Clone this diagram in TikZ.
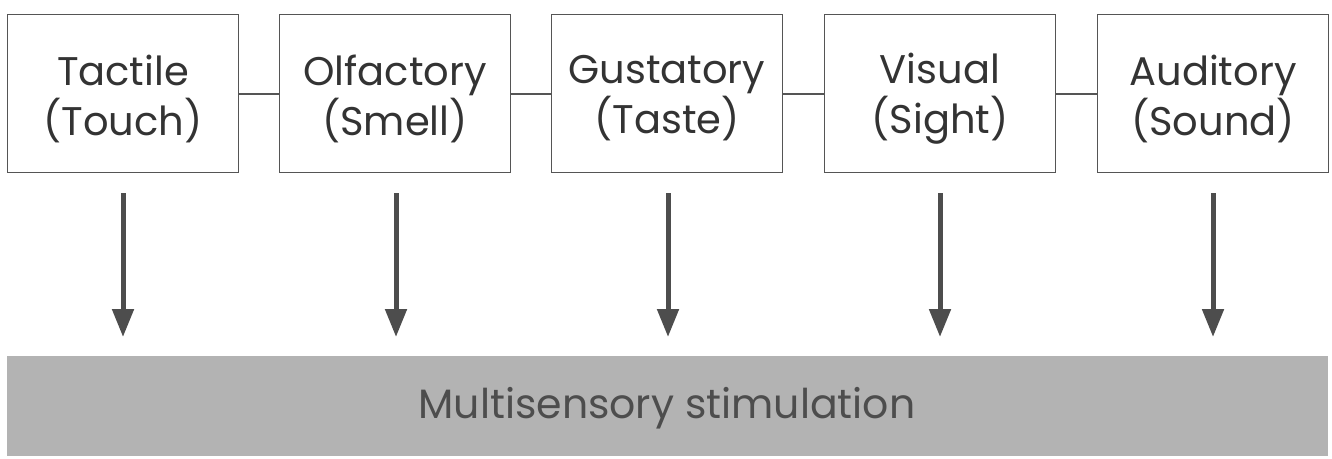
\documentclass[tikz,border=0pt]{standalone}
\usepackage{fontspec}
\setmainfont{Poppins}
\usetikzlibrary{arrows.meta}
\definecolor{boxline}{HTML}{555555}
\definecolor{txt}{HTML}{333333}
\definecolor{arr}{HTML}{4D4D4D}
\definecolor{bar}{HTML}{B3B3B3}
\begin{document}
\begin{tikzpicture}[x=1pt,y=-1pt,
  sense/.style={draw=boxline,line width=1.5pt,minimum width=231pt,minimum height=158pt,
    inner sep=0pt,align=center,text=txt,font=\fontsize{40}{50}\selectfont},
  link/.style={draw=boxline,line width=2pt},
  down/.style={draw=arr,line width=5pt,-{Triangle[width=21pt,length=28pt]}},
  ]
\useasboundingbox (0,0) rectangle (1332,458);
\node[sense] (t) at (123,93.5) {};
\node[sense] (o) at (395,93.5) {};
\node[sense] (g) at (667,93.5) {};
\node[sense] (v) at (940,93.5) {};
\node[sense] (a) at (1213,93.5) {};
\foreach \n/\l in {t/{Tactile\\(Touch)},o/{Olfactory\\(Smell)},g/{Gustatory\\(Taste)},v/{Visual\\(Sight)},a/{Auditory\\(Sound)}}{
  \node[align=center,text=txt,inner sep=0pt,font=\fontsize{40}{50}\selectfont] (l\n) at ([yshift=-5pt]\n.center) {\l};
}
\draw[link] (t) -- (o);
\draw[link] (o) -- (g);
\draw[link] (g) -- (v);
\draw[link] (v) -- (a);
\node[fill=bar,minimum width=1321pt,minimum height=100pt,inner sep=0pt,text=arr,
  font=\fontsize{41}{48}\selectfont] (m) at (667,406) {};
\node[text=arr,inner sep=0pt,font=\fontsize{41}{48}\selectfont] (ml) at ([yshift=-2pt]m.center) {Multisensory stimulation};
\foreach \n/\x in {t/123,o/396,g/668,v/940,a/1213}{
  \coordinate (s\n) at (\x,193);
  \coordinate (e\n) at (\x,337);
  \draw[down] (s\n) -- (e\n);
}
\end{tikzpicture}
\end{document}
